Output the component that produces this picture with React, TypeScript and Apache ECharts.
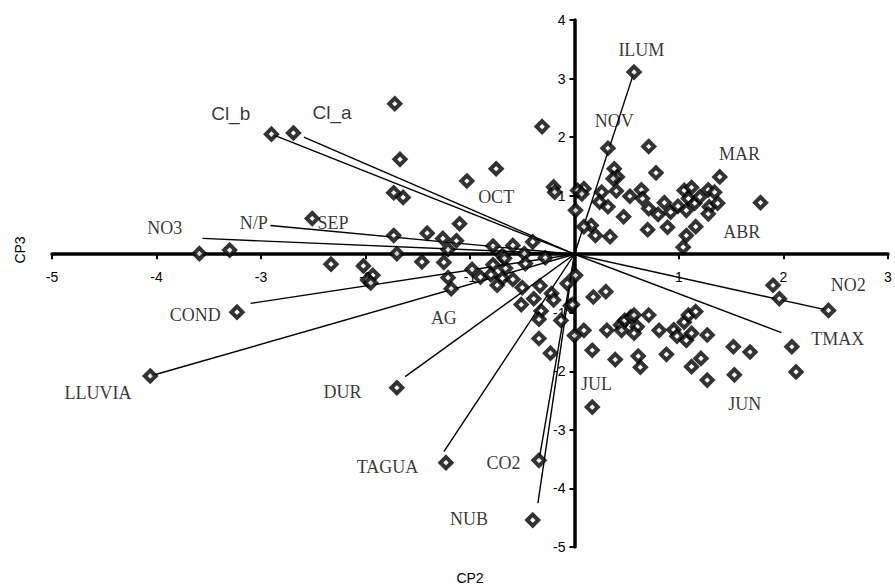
import React, { useEffect, useRef } from "react";
import * as echarts from "echarts";

// Axis ranges / ticks
const xMin = -5;
const xMax = 3;
const yMin = -5;
const yMax = 4;

// Observation scores (CP2, CP3), including the loading-end diamonds
const scores: [number, number][] = [
  [-1.72, 2.57], [-0.31, 2.18], [-1.67, 1.62], [-0.75, 1.46], [-1.03, 1.25],
  [-0.2, 1.15], [-0.19, 1.06], [-1.73, 1.05], [-1.64, 0.97], [-1.1, 0.52],
  [-1.73, 0.32], [-1.41, 0.36], [-1.26, 0.27], [-1.13, 0.23], [-0.4, 0.21],
  [-0.59, 0.15], [-0.78, 0.14], [-1.21, 0.08], [-1.7, 0.01], [-2.51, 0.61],
  [-3.59, 0.01], [-3.3, 0.07], [-0.69, -0.02], [-0.48, 0.01], [0.01, 0.75],
  [-2.69, 2.07], [-2.9, 2.05],
  [-1.46, -0.13], [-1.25, -0.14], [-0.98, -0.26], [-0.78, -0.18], [-0.66, -0.24],
  [-0.67, -0.07], [-0.47, -0.16], [-0.28, -0.06], [-0.9, -0.39], [-0.8, -0.35],
  [-0.69, -0.41], [-0.59, -0.43], [-0.74, -0.53], [-1.21, -0.4], [-1.18, -0.59],
  [-1.93, -0.36], [-0.5, -0.57], [-0.33, -0.54], [-0.07, -0.5], [-0.22, -0.67],
  [-0.39, -0.76], [-0.51, -0.86], [-0.2, -0.78], [-0.32, -0.97], [-0.34, -1.11],
  [-0.13, -1.13], [-0.04, -0.88], [0.0, -1.39], [-0.34, -1.44], [-0.23, -1.69],
  [-2.33, -0.17], [-2.02, -0.2], [-1.98, -0.44], [-1.95, -0.49],
  [-3.23, -0.99], [-4.06, -2.08], [-1.7, -2.28], [-1.23, -3.56], [-0.34, -3.52],
  [-0.4, -4.54], [0.01, -0.36], [-0.02, -0.86],
  [0.57, 3.11], [0.32, 1.81], [0.71, 1.84], [0.78, 1.39], [1.39, 1.32],
  [0.38, 1.46], [0.41, 1.32], [0.37, 1.29], [0.09, 1.12], [0.26, 1.06],
  [0.4, 1.08], [0.24, 0.89], [0.32, 0.81], [0.53, 0.99], [0.64, 1.1],
  [0.65, 0.95], [0.71, 0.78], [0.8, 0.68], [0.86, 0.88], [0.92, 0.72],
  [0.99, 0.82], [1.05, 1.09], [1.12, 1.14], [1.09, 0.95], [1.07, 0.75],
  [1.15, 0.87], [1.2, 0.98], [1.28, 1.1], [1.34, 1.06], [1.29, 0.81],
  [1.37, 0.87], [1.28, 0.69], [1.78, 0.88], [0.47, 0.64], [0.7, 0.42],
  [0.89, 0.46], [1.07, 0.32], [1.16, 0.47], [1.04, 0.12], [0.34, 0.3],
  [0.2, 0.32], [0.16, 0.49], [0.09, 0.47], [0.03, 1.09], [0.07, 1.03],
  [0.18, -0.73], [0.3, -0.64], [0.09, -1.3], [0.31, -1.3], [0.44, -1.21],
  [0.48, -1.13], [0.54, -1.07], [0.57, -1.04], [0.45, -1.3], [0.71, -1.04],
  [0.6, -1.24], [0.57, -1.35], [0.81, -1.3], [0.95, -1.29], [0.98, -1.4],
  [1.07, -1.47], [1.12, -1.35], [1.05, -1.16], [1.09, -1.04], [1.16, -0.98],
  [1.27, -1.38], [0.17, -1.64], [0.39, -1.8], [0.61, -1.74], [0.63, -1.93],
  [0.88, -1.71], [1.12, -1.92], [1.21, -1.78], [1.27, -2.15], [1.52, -1.58],
  [1.68, -1.67], [1.53, -2.06], [0.17, -2.61], [1.9, -0.53], [1.96, -0.76],
  [2.43, -0.96], [2.08, -1.58], [2.12, -2.01],
];

// Variable vectors (line ends)
const vectorNames = ["ILUM", "Cl_a", "Cl_b", "NO3", "N/P", "COND", "LLUVIA", "DUR", "TAGUA", "CO2", "NUB", "NO2", "TMAX"];
const vectorX = [0.57, -2.59, -2.9, -3.56, -2.91, -3.1, -4.06, -1.62, -1.25, -0.34, -0.35, 2.43, 1.98];
const vectorY = [3.11, 2.0, 2.05, 0.27, 0.49, -0.84, -2.08, -2.09, -3.37, -3.52, -4.25, -0.96, -1.34];

// Variable label anchors
const varLabelNames = ["ILUM", "Cl_a", "Cl_b", "NO3", "N/P", "COND", "LLUVIA", "DUR", "TAGUA", "CO2", "NUB", "NO2", "TMAX"];
const varLabelX = [0.64, -2.32, -3.29, -3.92, -3.07, -3.63, -4.56, -2.22, -1.79, -0.68, -1.01, 2.62, 2.52];
const varLabelY = [3.48, 2.42, 2.41, 0.44, 0.53, -1.04, -2.37, -2.35, -3.63, -3.57, -4.52, -0.53, -1.44];

// Month labels
const monthNames = ["SEP", "OCT", "NOV", "MAR", "ABR", "JUN", "JUL", "AG"];
const monthX = [-2.31, -0.75, 0.38, 1.58, 1.6, 1.63, 0.21, -1.25];
const monthY = [0.53, 0.98, 2.27, 1.71, 0.38, -2.56, -2.21, -1.09];

const sansLabels = ["Cl_a", "Cl_b"];

const W = 895;
const H = 588;
const GRID = { left: 52, right: 7, top: 20, bottom: 41 };

export default function App() {
  const ref = useRef<HTMLDivElement>(null);

  useEffect(() => {
    if (!ref.current) return;
    const chart = echarts.init(ref.current, undefined, { renderer: "svg" });

    const gridW = W - GRID.left - GRID.right;
    const gridH = H - GRID.top - GRID.bottom;
    // offsets that bring the axes (with their labels) onto the zero lines
    const xAxisOffset = -((0 - yMin) / (yMax - yMin)) * gridH;
    const yAxisOffset = -((0 - xMin) / (xMax - xMin)) * gridW;

    const labelData = [
      ...varLabelNames.map((n, i) => ({ name: n, value: [varLabelX[i], varLabelY[i]] })),
      ...monthNames.map((n, i) => ({ name: n, value: [monthX[i], monthY[i]] })),
    ];

    const axisCommon = {
      type: "value" as const,
      interval: 1,
      splitLine: { show: false },
      axisLine: { onZero: false, lineStyle: { color: "#000", width: 3.5 } },
      axisTick: { show: true, length: 5, lineStyle: { color: "#000", width: 2 } },
    };

    chart.setOption({
      animation: false,
      backgroundColor: "#fff",
      grid: { ...GRID, containLabel: false },
      xAxis: {
        ...axisCommon,
        position: "bottom",
        offset: xAxisOffset,
        min: xMin,
        max: xMax,
        axisLabel: {
          margin: 16,
          color: "#000",
          fontFamily: "Liberation Sans",
          fontSize: 14,
          formatter: (v: number) => (v === 0 ? "" : String(v)),
        },
      },
      yAxis: {
        ...axisCommon,
        position: "left",
        offset: yAxisOffset,
        min: yMin,
        max: yMax,
        axisLabel: {
          margin: 9,
          color: "#000",
          fontFamily: "Liberation Sans",
          fontSize: 14,
          formatter: (v: number) => (v === 0 ? "" : String(v)),
        },
      },
      series: [
        {
          type: "lines",
          coordinateSystem: "cartesian2d",
          silent: true,
          z: 2,
          lineStyle: { color: "#000", width: 1.4, opacity: 1 },
          data: vectorNames.map((n, i) => ({ name: n, coords: [[0, 0], [vectorX[i], vectorY[i]]] })),
        },
        {
          type: "scatter",
          z: 3,
          symbol: "diamond",
          symbolSize: 11,
          itemStyle: { color: "#fff", borderColor: "#000", borderWidth: 4 },
          data: scores,
        },
        {
          type: "scatter",
          z: 4,
          silent: true,
          symbol: "circle",
          symbolSize: 1,
          itemStyle: { color: "rgba(0,0,0,0)" },
          label: {
            show: true,
            position: "inside",
            formatter: (p: any) => p.name,
            color: "#000",
            fontFamily: "Liberation Serif",
            fontSize: 18,
          },
          data: labelData.map((d) =>
            sansLabels.includes(d.name)
              ? { ...d, label: { fontFamily: "Liberation Sans", fontSize: 19 } }
              : d
          ),
        },
      ],
      graphic: [
        {
          type: "text",
          x: 20,
          y: 250,
          rotation: Math.PI / 2,
          style: {
            text: "CP3",
            fontFamily: "Liberation Sans",
            fontSize: 14,
            fill: "#000",
            align: "center",
            verticalAlign: "middle",
          },
        },
        {
          type: "text",
          x: 470,
          y: 578,
          style: {
            text: "CP2",
            fontFamily: "Liberation Sans",
            fontSize: 14,
            fill: "#000",
            align: "center",
            verticalAlign: "middle",
          },
        },
      ],
    });

    return () => chart.dispose();
  }, []);

  return (
    <div
      ref={ref}
      style={{ position: "fixed", left: 0, top: 0, width: W, height: H }}
    />
  );
}
